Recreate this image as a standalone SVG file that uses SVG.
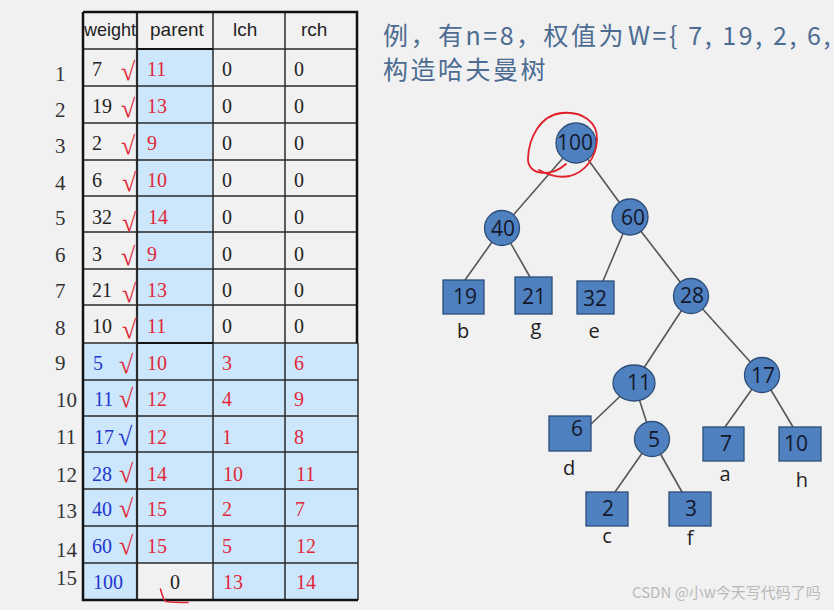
<svg xmlns="http://www.w3.org/2000/svg" width="834" height="610" viewBox="0 0 834 610">
<style>
.bg{fill:#f1f1f1}
.blue{fill:#cce7fb}
.in{stroke:#2a2a2a;stroke-width:1.5;fill:none}
.out{stroke:#111;stroke-width:2.5;fill:none}
.hd{font-family:"Liberation Sans","Noto Sans",sans-serif;font-size:19px;fill:#222}
.rn{font-family:"Liberation Serif",serif;font-size:21px;fill:#333}
.c{font-family:"Liberation Serif",serif;font-size:20px}
.k{fill:#222}
.r{fill:#e0283a}
.b{fill:#2236d0}
.ck{font-family:"Liberation Serif",serif;font-size:26px}
.title{font-family:"Noto Sans CJK SC","Noto Sans",sans-serif;font-size:25px;letter-spacing:2.5px;fill:#4d6c92}
.edge{stroke:#555;stroke-width:1.6;fill:none}
.nd{fill:#4f80bf;stroke:#2c4d78;stroke-width:1.3}
.nt{font-family:"Open Sans","Noto Sans",sans-serif;font-size:21px;fill:#14182a;text-anchor:middle}
.lb{font-family:"Open Sans","Noto Sans",sans-serif;font-size:20px;fill:#222;text-anchor:middle}
.wm{font-family:"Noto Sans CJK SC","Noto Sans",sans-serif;font-size:15px;fill:#b9b9b9}
</style>
<rect class="bg" x="0" y="0" width="834" height="610"/>

<g id="table">
  <rect class="blue" x="137" y="49" width="76" height="514"/>
  <rect class="blue" x="83" y="343" width="275" height="257"/>
  <rect class="bg" x="137" y="563" width="76" height="37"/>
  <g class="in">
    <line x1="83" y1="49" x2="357" y2="49"/>
    <line x1="83" y1="86" x2="357" y2="86"/>
    <line x1="83" y1="123" x2="357" y2="123"/>
    <line x1="83" y1="160" x2="357" y2="160"/>
    <line x1="83" y1="196" x2="357" y2="196"/>
    <line x1="83" y1="232" x2="357" y2="232"/>
    <line x1="83" y1="269" x2="357" y2="269"/>
    <line x1="83" y1="305" x2="357" y2="305"/>
    <line x1="83" y1="343" x2="358" y2="343"/>
    <line x1="83" y1="380" x2="358" y2="380"/>
    <line x1="83" y1="416" x2="358" y2="416"/>
    <line x1="83" y1="452" x2="358" y2="452"/>
    <line x1="83" y1="489" x2="358" y2="489"/>
    <line x1="83" y1="526" x2="358" y2="526"/>
    <line x1="83" y1="563" x2="358" y2="563"/>
    <line x1="137" y1="12" x2="137" y2="600" stroke-width="2.2"/>
    <line x1="213" y1="12" x2="213" y2="600"/>
    <line x1="285" y1="12" x2="285" y2="600"/>
    <line x1="358" y1="343" x2="358" y2="600"/>
  </g>
  <path class="out" d="M83,12 H357 V343 M83,12 V600 H358"/>
  <line x1="137" y1="49" x2="213" y2="49" stroke="#111" stroke-width="2"/>
  <line x1="137" y1="343" x2="213" y2="343" stroke="#111" stroke-width="2"/>

  <text class="hd" x="84" y="36" textLength="52" lengthAdjust="spacingAndGlyphs">weight</text>
  <text class="hd" x="150" y="36">parent</text>
  <text class="hd" x="233" y="36">lch</text>
  <text class="hd" x="301" y="36">rch</text>

  <g class="rn">
    <text x="55" y="81">1</text>
    <text x="55" y="117">2</text>
    <text x="55" y="153">3</text>
    <text x="55" y="190">4</text>
    <text x="55" y="225">5</text>
    <text x="55" y="262">6</text>
    <text x="55" y="298">7</text>
    <text x="55" y="335">8</text>
    <text x="55" y="370">9</text>
    <text x="56" y="407">10</text>
    <text x="56" y="444">11</text>
    <text x="56" y="482">12</text>
    <text x="56" y="518">13</text>
    <text x="56" y="557">14</text>
    <text x="56" y="585">15</text>
  </g>

  <g class="c">
    <text class="k" x="92" y="76">7</text>
    <text class="k" x="92" y="113">19</text>
    <text class="k" x="92" y="150">2</text>
    <text class="k" x="92" y="187">6</text>
    <text class="k" x="92" y="224">32</text>
    <text class="k" x="92" y="261">3</text>
    <text class="k" x="92" y="297">21</text>
    <text class="k" x="92" y="333">10</text>
    <text class="b" x="93" y="370">5</text>
    <text class="b" x="94" y="406">11</text>
    <text class="b" x="94" y="444">17</text>
    <text class="b" x="92" y="481">28</text>
    <text class="b" x="92" y="516">40</text>
    <text class="b" x="92" y="553">60</text>
    <text class="b" x="93" y="589">100</text>

    <text class="r" x="147" y="76">11</text>
    <text class="r" x="147" y="113">13</text>
    <text class="r" x="147" y="150">9</text>
    <text class="r" x="147" y="187">10</text>
    <text class="r" x="148" y="224">14</text>
    <text class="r" x="147" y="261">9</text>
    <text class="r" x="147" y="297">13</text>
    <text class="r" x="147" y="333">11</text>
    <text class="r" x="147" y="370">10</text>
    <text class="r" x="147" y="406">12</text>
    <text class="r" x="147" y="444">12</text>
    <text class="r" x="147" y="481">14</text>
    <text class="r" x="147" y="516">15</text>
    <text class="r" x="147" y="553">15</text>
    <text class="k" x="170" y="589">0</text>

    <text class="k" x="222" y="76">0</text>
    <text class="k" x="222" y="113">0</text>
    <text class="k" x="222" y="150">0</text>
    <text class="k" x="222" y="187">0</text>
    <text class="k" x="222" y="224">0</text>
    <text class="k" x="222" y="261">0</text>
    <text class="k" x="222" y="297">0</text>
    <text class="k" x="222" y="333">0</text>
    <text class="r" x="222" y="370">3</text>
    <text class="r" x="222" y="406">4</text>
    <text class="r" x="222" y="444">1</text>
    <text class="r" x="223" y="481">10</text>
    <text class="r" x="222" y="516">2</text>
    <text class="r" x="222" y="553">5</text>
    <text class="r" x="223" y="589">13</text>

    <text class="k" x="294" y="76">0</text>
    <text class="k" x="294" y="113">0</text>
    <text class="k" x="294" y="150">0</text>
    <text class="k" x="294" y="187">0</text>
    <text class="k" x="294" y="224">0</text>
    <text class="k" x="294" y="261">0</text>
    <text class="k" x="294" y="297">0</text>
    <text class="k" x="294" y="333">0</text>
    <text class="r" x="294" y="370">6</text>
    <text class="r" x="294" y="406">9</text>
    <text class="r" x="294" y="444">8</text>
    <text class="r" x="296" y="481">11</text>
    <text class="r" x="295" y="516">7</text>
    <text class="r" x="296" y="553">12</text>
    <text class="r" x="296" y="589">14</text>
  </g>

  <g class="ck r">
    <text x="121" y="80">√</text>
    <text x="121" y="117">√</text>
    <text x="121" y="154">√</text>
    <text x="122" y="191">√</text>
    <text x="122" y="231">√</text>
    <text x="121" y="265">√</text>
    <text x="122" y="302">√</text>
    <text x="122" y="338">√</text>
    <text x="119" y="373">√</text>
    <text x="119" y="407">√</text>
    <text x="119" y="482">√</text>
    <text x="119" y="517">√</text>
    <text x="119" y="554">√</text>
  </g>
  <text class="ck b" x="118" y="445">√</text>
  <path d="M160.5,589 C162,594 163,600 166,601.5 C173,602.5 181,602.5 188,602.5" fill="none" stroke="#e0283a" stroke-width="1.6" stroke-linecap="round"/>
</g>

<g id="title">
  <text class="title" y="45"><tspan x="383">例，有n=8，权值为</tspan><tspan x="628" textLength="205" lengthAdjust="spacing">W={ 7, 19, 2, 6,</tspan></text>
  <text class="title" x="383" y="79">构造哈夫曼树</text>
</g>

<g id="connectors">
  <line class="edge" x1="576" y1="143" x2="502" y2="228"/>
  <line class="edge" x1="576" y1="143" x2="630" y2="217"/>
  <line class="edge" x1="502" y1="228" x2="465" y2="280"/>
  <line class="edge" x1="502" y1="228" x2="530" y2="277"/>
  <line class="edge" x1="630" y1="217" x2="603" y2="281"/>
  <line class="edge" x1="630" y1="217" x2="691" y2="296"/>
  <line class="edge" x1="691" y1="296" x2="634" y2="383"/>
  <line class="edge" x1="691" y1="296" x2="762" y2="375"/>
  <line class="edge" x1="634" y1="383" x2="590" y2="425"/>
  <line class="edge" x1="634" y1="383" x2="652" y2="439"/>
  <line class="edge" x1="652" y1="439" x2="615" y2="492"/>
  <line class="edge" x1="652" y1="439" x2="682" y2="492"/>
  <line class="edge" x1="762" y1="375" x2="725" y2="427"/>
  <line class="edge" x1="762" y1="375" x2="793" y2="427"/>
</g>

<g id="n100"><circle class="nd" cx="576" cy="143" r="20"/><text class="nt" x="575" y="150">100</text></g>
<g id="n40"><circle class="nd" cx="502" cy="228" r="17.5"/><text class="nt" x="503" y="236">40</text></g>
<g id="n60"><circle class="nd" cx="630" cy="217" r="18"/><text class="nt" x="633" y="225">60</text></g>
<g id="n28"><circle class="nd" cx="691" cy="296" r="17.5"/><text class="nt" x="692" y="303">28</text></g>
<g id="n11"><ellipse class="nd" cx="634" cy="383" rx="21" ry="18"/><text class="nt" x="639" y="390">11</text></g>
<g id="n17"><circle class="nd" cx="762" cy="375" r="17.5"/><text class="nt" x="763" y="383">17</text></g>
<g id="n5"><circle class="nd" cx="652" cy="439" r="17.5"/><text class="nt" x="654" y="447">5</text></g>

<g id="leaf19"><rect class="nd" x="443" y="280" width="41" height="34"/><text class="nt" x="465" y="304">19</text><text class="lb" x="463" y="338">b</text></g>
<g id="leaf21"><rect class="nd" x="515" y="277" width="37" height="37"/><text class="nt" x="534" y="304">21</text><text class="lb" x="536" y="334">g</text></g>
<g id="leaf32"><rect class="nd" x="577" y="281" width="37" height="33"/><text class="nt" x="595" y="306">32</text><text class="lb" x="594" y="338">e</text></g>
<g id="leaf6"><rect class="nd" x="549" y="416" width="42" height="35"/><text class="nt" x="577" y="436">6</text><text class="lb" x="569" y="475">d</text></g>
<g id="leaf7"><rect class="nd" x="703" y="427" width="41" height="34"/><text class="nt" x="726" y="451">7</text><text class="lb" x="725" y="481">a</text></g>
<g id="leaf10"><rect class="nd" x="779" y="427" width="42" height="34"/><text class="nt" x="796" y="451">10</text><text class="lb" x="802" y="487">h</text></g>
<g id="leaf2"><rect class="nd" x="586" y="492" width="42" height="34"/><text class="nt" x="608" y="516">2</text><text class="lb" x="607" y="543">c</text></g>
<g id="leaf3"><rect class="nd" x="669" y="492" width="42" height="34"/><text class="nt" x="691" y="516">3</text><text class="lb" x="690" y="545">f</text></g>

<path d="M566,164 C550,178 527,175 528,158 C529,138 540,115 562,113 C582,111 598,122 597,140 C596,158 585,172 570,176 C560,178 548,175 539,170" fill="none" stroke="#e0202a" stroke-width="1.8" stroke-linecap="round"/>

<text class="wm" x="632" y="598">CSDN @小w今天写代码了吗</text>
</svg>
